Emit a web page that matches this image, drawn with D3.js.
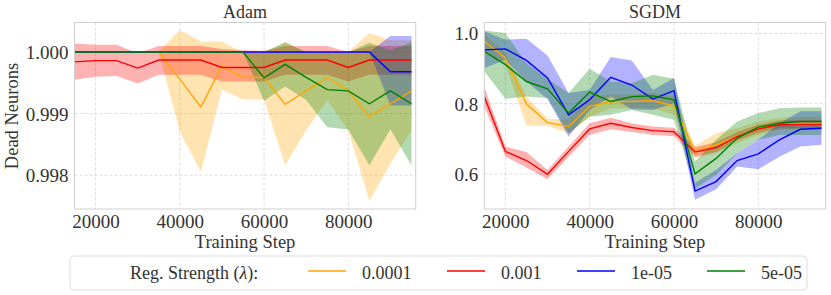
<!DOCTYPE html>
<html>
<meta charset="utf-8">
<title>Dead Neurons</title>
<script src="https://d3js.org/d3.v7.min.js"></script>
<style>
body { margin: 0; background: #fff; }
text { font-family: "Liberation Serif", "Times New Roman", serif; fill: #333; }
.grid line { stroke: #dcdcdc; stroke-dasharray: 3,2; }
.frame { fill: none; stroke: #cfcfcf; }
</style>
<body>
<svg width="831" height="295"></svg>
<script>
// training steps (x values)
var steps = [15000,20000,25000,30000,35000,40000,45000,50000,55000,60000,65000,70000,75000,80000,85000,90000,95000];
var regLabels = ["0.0001", "0.001", "1e-05", "5e-05"];
var colors = ["orange", "red", "blue", "green"];
var xTicks = [20000, 40000, 60000, 80000];
var adamTicks = [0.998, 0.999, 1.000];
var sgdmTicks = [0.6, 0.8, 1.0];

// Adam: mean / lower / upper per regularisation strength
var adam_0001_mean = [1,1,1,1,1,0.99956,0.99911,0.99977,0.99959,0.99959,0.99915,0.99937,0.99959,0.99937,0.99895,0.99916,0.99937];
var adam_0001_lo   = [1,1,1,1,1,0.99871,0.99805,0.99939,0.99923,0.99923,0.99816,0.99873,0.99922,0.99873,0.99758,0.99819,0.99873];
var adam_0001_hi   = [1,1,1,1,1,1.00036,1.00017,1.00017,0.99999,0.99998,1.00016,0.99999,1.0,1.0,1.00031,1.00019,1.00019];
var adam_001_mean  = [0.99984,0.99986,0.99986,0.99974,0.99987,0.99987,0.99987,0.99975,0.99975,0.99975,0.99987,0.99987,0.99987,0.99975,0.99987,0.99987,0.99987];
var adam_001_lo    = [0.99955,0.9996,0.99961,0.99949,0.99963,0.99963,0.99963,0.99952,0.99952,0.99952,0.99963,0.99963,0.99963,0.99952,0.99963,0.99963,0.99963];
var adam_001_hi    = [1.00014,1.00012,1.00012,0.99998,1.0001,1.0001,1.0001,1.00005,1.00003,1.00002,1.0001,1.0001,1.0001,1.0,1.0001,1.0001,1.0001];
var adam_1e5_mean  = [1,1,1,1,1,1,1,1,1,1,1,1,1,1,1,0.99968,0.99968];
var adam_1e5_lo    = [1,1,1,1,1,1,1,1,1,1,1,1,1,1,1,0.99913,0.99913];
var adam_1e5_hi    = [1,1,1,1,1,1,1,1,1,1,1,1,1,1,1,1.00026,1.00026];
var adam_5e5_mean  = [1,1,1,1,1,1,1,1,1,0.99958,0.9998,0.99959,0.99939,0.99937,0.99916,0.99937,0.99916];
var adam_5e5_lo    = [1,1,1,1,1,1,1,1,1,0.99921,0.99944,0.99922,0.99878,0.99874,0.99816,0.99874,0.99816];
var adam_5e5_hi    = [1,1,1,1,1,1,1,1,1,1.0,1.00016,1.0,1.0,1.0,1.00015,1.00003,1.00016];

// SGDM
var sgdm_0001_mean = [0.977,0.930,0.799,0.746,0.735,0.792,0.806,0.806,0.808,0.794,0.664,0.683,0.706,0.730,0.742,0.744,0.744];
var sgdm_0001_lo   = [0.955,0.911,0.737,0.737,0.716,0.763,0.787,0.787,0.787,0.768,0.645,0.659,0.687,0.711,0.726,0.726,0.726];
var sgdm_0001_hi   = [1.000,0.944,0.820,0.757,0.754,0.820,0.825,0.825,0.830,0.820,0.680,0.716,0.730,0.749,0.759,0.763,0.763];
var sgdm_001_mean  = [0.820,0.664,0.638,0.599,0.664,0.728,0.744,0.732,0.723,0.720,0.662,0.675,0.706,0.728,0.740,0.741,0.741];
var sgdm_001_lo    = [0.792,0.649,0.618,0.585,0.649,0.711,0.727,0.719,0.711,0.707,0.649,0.662,0.695,0.717,0.729,0.730,0.730];
var sgdm_001_hi    = [0.849,0.678,0.662,0.611,0.678,0.744,0.760,0.744,0.735,0.731,0.676,0.690,0.719,0.740,0.752,0.753,0.753];
var sgdm_1e5_mean  = [0.953,0.956,0.923,0.873,0.768,0.811,0.875,0.853,0.813,0.837,0.551,0.578,0.638,0.657,0.697,0.727,0.730];
var sgdm_1e5_lo    = [0.901,0.925,0.863,0.813,0.706,0.782,0.820,0.784,0.782,0.801,0.526,0.556,0.621,0.613,0.649,0.678,0.683];
var sgdm_1e5_hi    = [1.006,0.982,0.985,0.937,0.830,0.839,0.933,0.923,0.839,0.873,0.575,0.611,0.659,0.697,0.744,0.778,0.778];
var sgdm_5e5_mean  = [0.949,0.911,0.863,0.842,0.773,0.833,0.806,0.820,0.822,0.811,0.600,0.644,0.702,0.733,0.744,0.749,0.749];
var sgdm_5e5_lo    = [0.892,0.814,0.820,0.816,0.716,0.763,0.768,0.782,0.768,0.754,0.559,0.597,0.659,0.697,0.711,0.711,0.711];
var sgdm_5e5_hi    = [1.008,1.001,0.915,0.870,0.830,0.899,0.863,0.858,0.882,0.871,0.635,0.697,0.749,0.773,0.787,0.789,0.789];

var svg = d3.select("svg");
svg.append("rect").attr("width", 831).attr("height", 295).attr("fill", "#fff");

function panel(opts) {
  var x = d3.scaleLinear().domain([15000, 96000]).range([opts.left, opts.right]);
  var y = d3.scaleLinear().domain(opts.yDomain).range([209, 22.5]);
  var g = svg.append("g");

  // grid
  var grid = g.append("g").attr("class", "grid");
  grid.selectAll(".gx").data(xTicks).enter().append("line")
    .attr("x1", d => x(d)).attr("x2", d => x(d)).attr("y1", 22.5).attr("y2", 209);
  grid.selectAll(".gy").data(opts.yTicks).enter().append("line")
    .attr("y1", d => y(d)).attr("y2", d => y(d)).attr("x1", opts.left).attr("x2", opts.right);

  var clipId = "clip" + opts.name;
  svg.append("clipPath").attr("id", clipId).append("rect")
    .attr("x", opts.left).attr("y", 22.5).attr("width", opts.right - opts.left).attr("height", 186.5);
  var plot = g.append("g").attr("clip-path", "url(#" + clipId + ")");

  var area = d3.area().x((d, i) => x(steps[i])).y0(d => y(d[0])).y1(d => y(d[1]));
  var line = d3.line().x((d, i) => x(steps[i])).y(d => y(d));

  opts.series.forEach(function(s, k) {
    var band = s.lo.map((v, i) => [v, s.hi[i]]);
    plot.append("path").attr("d", area(band))
      .attr("fill", colors[k]).attr("fill-opacity", 0.3).attr("stroke", "none");
  });
  opts.series.forEach(function(s, k) {
    plot.append("path").attr("d", line(s.mean))
      .attr("fill", "none").attr("stroke", colors[k]).attr("stroke-width", 1.4);
  });

  g.append("rect").attr("class", "frame")
    .attr("x", opts.left).attr("y", 22.5).attr("width", opts.right - opts.left).attr("height", 186.5);

  // axes (tick labels only, seaborn style)
  var xa = g.append("g").attr("transform", "translate(0,209)")
    .call(d3.axisBottom(x).tickValues(xTicks).tickFormat(d3.format("d")).tickSize(0).tickPadding(0));
  xa.select(".domain").remove();
  xa.selectAll("text").attr("y", 19).attr("dy", 0).style("font-size", "19px").style("font-family", null).attr("fill", null);

  var ya = g.append("g").attr("transform", "translate(" + opts.left + ",0)")
    .call(d3.axisLeft(y).tickValues(opts.yTicks).tickFormat(d3.format(opts.fmt)).tickSize(0).tickPadding(6));
  ya.select(".domain").remove();
  ya.selectAll("text").attr("dy", "0.34em").style("font-size", "19px").style("font-family", null).attr("fill", null);

  g.append("text").attr("x", (opts.left + opts.right) / 2).attr("y", 17.5)
    .attr("text-anchor", "middle").style("font-size", "18px").text(opts.title);
  g.append("text").attr("x", (opts.left + opts.right) / 2).attr("y", 247.5)
    .attr("text-anchor", "middle").style("font-size", "18.5px").text("Training Step");
}

panel({
  name: "adam", title: "Adam", left: 74.5, right: 415.7,
  yDomain: [0.99745, 1.00048], yTicks: adamTicks, fmt: ".3f",
  series: [
    {mean: adam_0001_mean, lo: adam_0001_lo, hi: adam_0001_hi},
    {mean: adam_001_mean, lo: adam_001_lo, hi: adam_001_hi},
    {mean: adam_1e5_mean, lo: adam_1e5_lo, hi: adam_1e5_hi},
    {mean: adam_5e5_mean, lo: adam_5e5_lo, hi: adam_5e5_hi}
  ]
});
panel({
  name: "sgdm", title: "SGDM", left: 484.3, right: 825.7,
  yDomain: [0.5, 1.031], yTicks: sgdmTicks, fmt: ".1f",
  series: [
    {mean: sgdm_0001_mean, lo: sgdm_0001_lo, hi: sgdm_0001_hi},
    {mean: sgdm_001_mean, lo: sgdm_001_lo, hi: sgdm_001_hi},
    {mean: sgdm_1e5_mean, lo: sgdm_1e5_lo, hi: sgdm_1e5_hi},
    {mean: sgdm_5e5_mean, lo: sgdm_5e5_lo, hi: sgdm_5e5_hi}
  ]
});

svg.append("text").attr("transform", "translate(18,116) rotate(-90)")
  .attr("text-anchor", "middle").style("font-size", "18.5px").text("Dead Neurons");

// legend
var lg = svg.append("g");
lg.append("rect").attr("x", 70).attr("y", 256).attr("width", 737).attr("height", 34)
  .attr("rx", 4).attr("fill", "#fff").attr("stroke", "#dddddd");
var lt = lg.append("text").attr("x", 130).attr("y", 278.5).style("font-size", "18px");
lt.append("tspan").text("Reg. Strength (");
lt.append("tspan").style("font-style", "italic").text("λ");
lt.append("tspan").text("):");
var itemX = [308, 447, 577, 707];
regLabels.forEach(function(lab, k) {
  lg.append("line").attr("x1", itemX[k]).attr("x2", itemX[k] + 38).attr("y1", 271).attr("y2", 271)
    .attr("stroke", colors[k]).attr("stroke-width", 1.4);
  lg.append("text").attr("x", itemX[k] + 54).attr("y", 278.5).style("font-size", "18px").text(lab);
});
</script>
</body>
</html>
